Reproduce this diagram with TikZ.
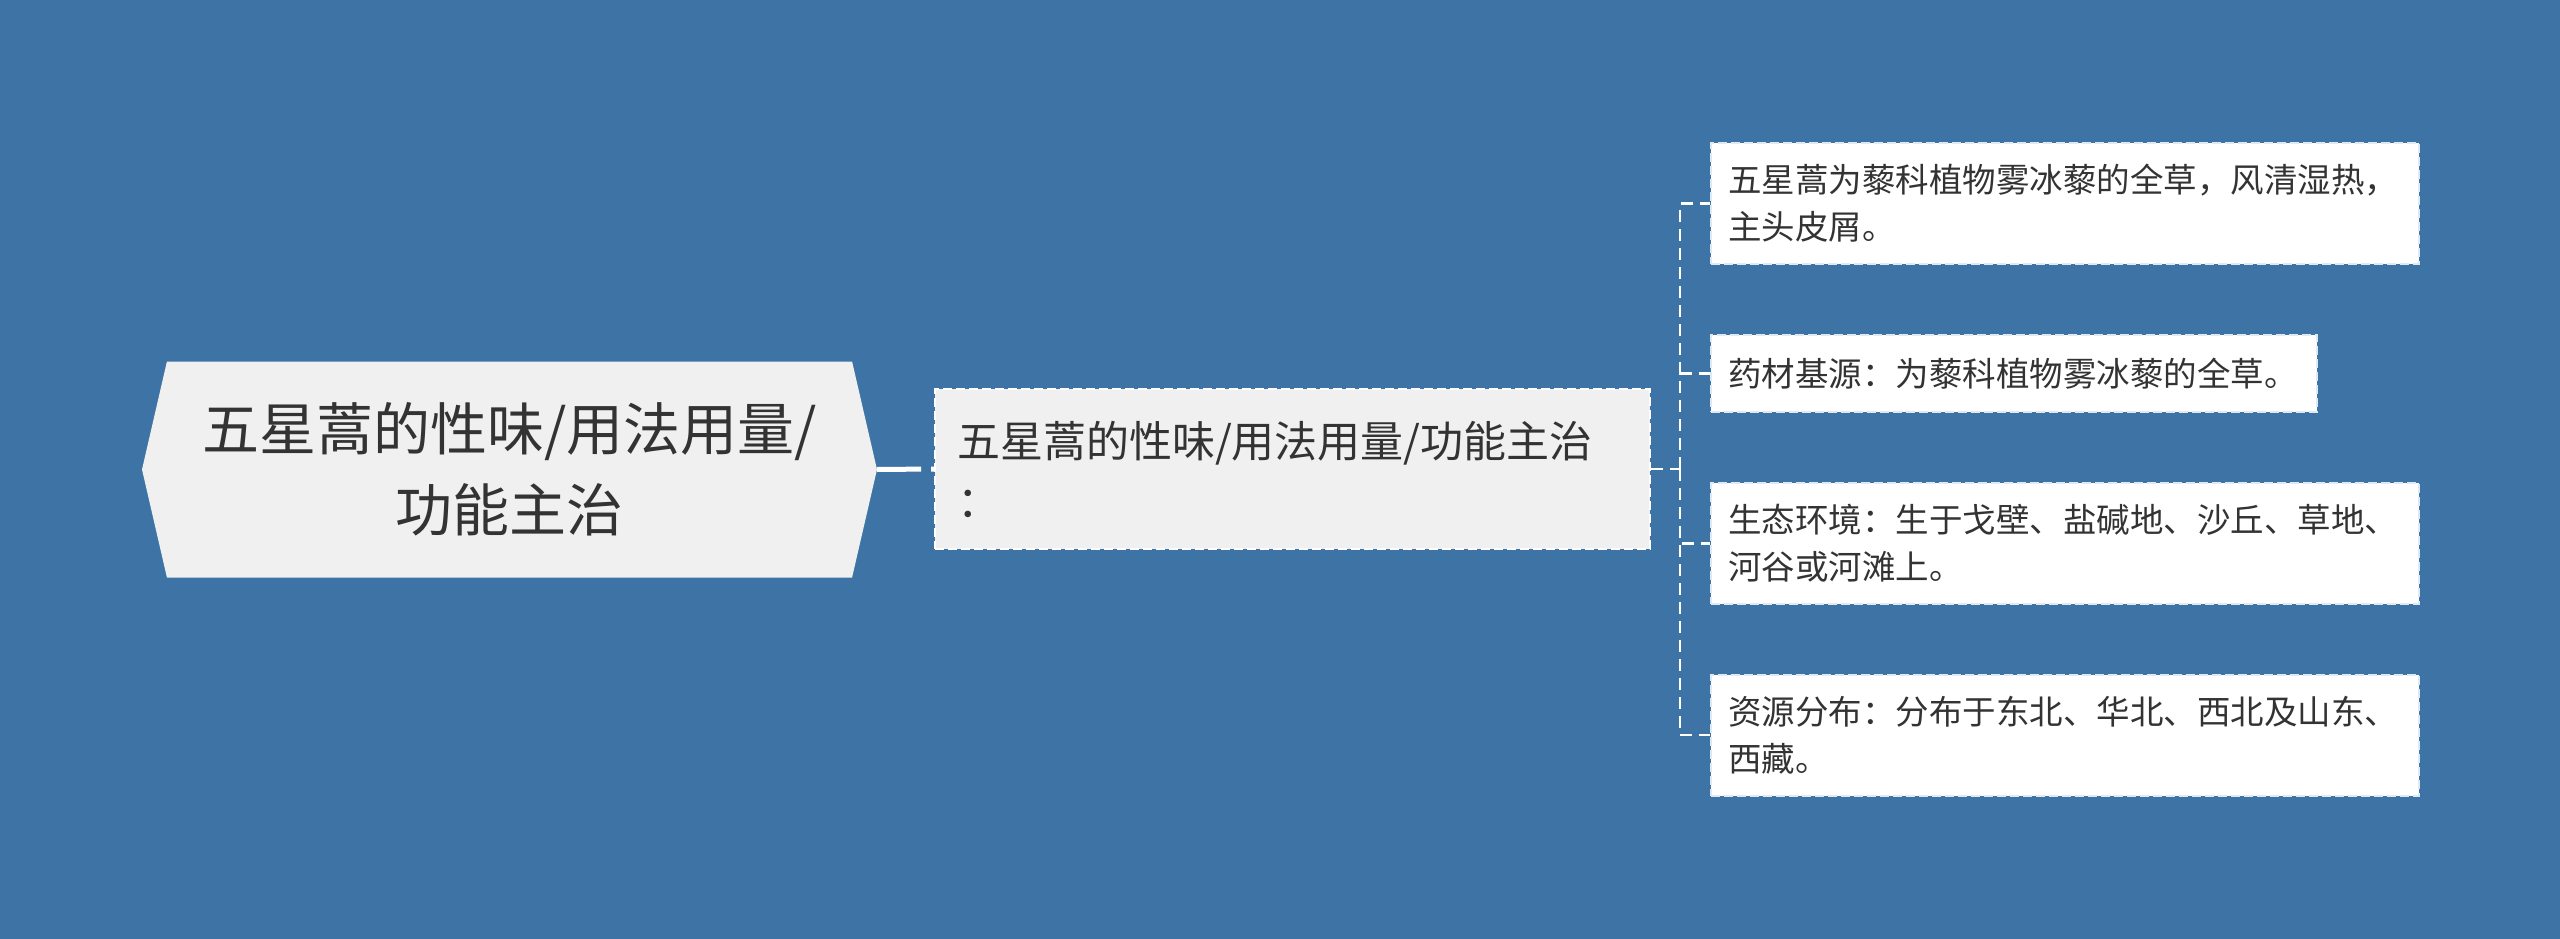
\documentclass[tikz,border=0pt]{standalone}
\usepackage{fontspec}
\newfontfamily\cjk{Noto Sans CJK SC}
\usetikzlibrary{shapes.symbols}
\definecolor{bgblue}{RGB}{62,116,165}
\definecolor{boxgray}{RGB}{240,240,240}
\definecolor{inkgray}{RGB}{51,51,51}
\definecolor{rimblue}{RGB}{222,233,243}
\begin{document}
\begin{tikzpicture}[x=1pt, y=-1pt,
    root/.style={signal, signal to=east and west, signal pointer angle=154, fill=boxgray, text=inkgray,
      minimum width=735pt, minimum height=216pt, inner sep=0pt, align=center, font=\cjk\fontsize{57}{81}\selectfont},
    topic/.style={rectangle, draw=white, line width=2pt, dash pattern=on 9pt off 4pt, fill=boxgray, text=inkgray,
      anchor=west, text width=671pt, inner xsep=22pt, minimum height=160pt, align=left, font=\cjk\fontsize{43}{60}\selectfont},
    leaf/.style={rectangle, draw=rimblue, line width=2pt, dash pattern=on 9pt off 4pt, fill=white, text=inkgray,
      anchor=west, inner xsep=17pt, align=left, font=\cjk\fontsize{33.5}{47}\selectfont},
    link/.style={draw=white, line width=5pt, dash pattern=on 44pt off 10pt on 6pt off 2pt},
    branch/.style={draw=white, line width=2.5pt, dash pattern=on 12pt off 7pt}]
    \useasboundingbox[fill=bgblue] (0,0) rectangle (2560,939);

    % Nodes
    \node[root] at (509.5, 469.5) (root) {五星蒿的性味/用法用量/\\功能主治};
    \node[topic] at (934, 469) (topic) {五星蒿的性味/用法用量/功能主治\\：};

    \node[leaf, text width=674pt, minimum height=121pt] at (1710, 203.5) (leafa) {五星蒿为藜科植物雾冰藜的全草，风清湿热，\\主头皮屑。};
    \node[leaf, text width=572pt, minimum height=77pt] at (1710, 373.5) (leafb) {药材基源：为藜科植物雾冰藜的全草。};
    \node[leaf, text width=674pt, minimum height=121pt] at (1710, 543.5) (leafc) {生态环境：生于戈壁、盐碱地、沙丘、草地、\\河谷或河滩上。};
    \node[leaf, text width=674pt, minimum height=121pt] at (1710, 735) (leafd) {资源分布：分布于东北、华北、西北及山东、\\西藏。};

    % Connectors
    \draw[link] (root.east) -- (topic.west);

    \coordinate (fork) at (1680, 469);
    \draw[branch] (topic.east) -- (fork);
    \foreach \leaf in {leafa, leafb, leafc, leafd}
      \draw[branch] (fork) |- (\leaf.west);
\end{tikzpicture}
\end{document}
